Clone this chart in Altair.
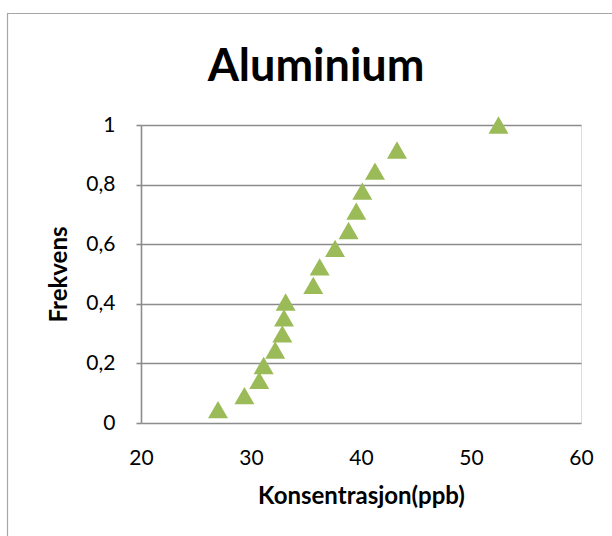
import altair as alt
import pandas as pd

# Aluminium concentration (ppb) against cumulative frequency
konsentrasjon = [27.0, 29.4, 30.75, 31.15, 32.2, 32.85, 33.0, 33.15, 35.66, 36.24,
                 37.64, 38.87, 39.57, 40.12, 41.27, 43.27, 52.5]
frekvens = [0.045, 0.092, 0.143, 0.193, 0.245, 0.299, 0.353, 0.406, 0.462, 0.524,
            0.586, 0.646, 0.711, 0.778, 0.845, 0.916, 1.0]

x_ticks = [20, 30, 40, 50, 60]
y_ticks = [0, 0.2, 0.4, 0.6, 0.8, 1.0]

FONT = "Lato"
GRID = "#8c8c8c"

df = pd.DataFrame({"Konsentrasjon": konsentrasjon, "Frekvens": frekvens})

points = alt.Chart(df).mark_point(
    shape="triangle-up", filled=True, size=400, color="#9BBB59", opacity=1
).encode(
    x=alt.X(
        "Konsentrasjon:Q",
        scale=alt.Scale(domain=[20, 60], nice=False, zero=False),
        axis=alt.Axis(
            title="Konsentrasjon(ppb)",
            values=x_ticks,
            grid=False,
            ticks=False,
            domain=False,
            labelFlush=False,
            labelFont=FONT,
            labelFontSize=21,
            labelColor="#000000",
            labelPadding=24,
            titleFont=FONT,
            titleFontSize=24,
            titleFontWeight="bold",
            titleColor="#000000",
            titleBaseline="alphabetic",
            titleY=80,
        ),
    ),
    y=alt.Y(
        "Frekvens:Q",
        scale=alt.Scale(domain=[0, 1], nice=False),
        axis=alt.Axis(
            title="Frekvens",
            values=y_ticks,
            labelExpr="replace(format(datum.value, '.1~f'), '.', ',')",
            grid=True,
            gridColor=GRID,
            gridWidth=1.6,
            domain=True,
            domainColor=GRID,
            domainWidth=1.6,
            ticks=True,
            tickColor=GRID,
            tickSize=5,
            tickWidth=1.6,
            labelFont=FONT,
            labelFontSize=21,
            labelColor="#000000",
            labelPadding=21,
            titleFont=FONT,
            titleFontSize=24,
            titleFontWeight="bold",
            titleColor="#000000",
            titleBaseline="middle",
            titleX=-82,
            titleY=149,
        ),
    ),
)

# outer chart frame
frame = alt.Chart(pd.DataFrame({"f": [0]})).mark_rect(
    fillOpacity=0, stroke="#a6a6a6", strokeWidth=1.2
).encode(
    x=alt.value(-133.5), x2=alt.value(520),
    y=alt.value(-111.5), y2=alt.value(460),
)

chart = alt.layer(frame, points).properties(
    width=440,
    height=298,
    padding={"left": 141, "top": 125, "right": 31, "bottom": 113},
    autosize=alt.AutoSizeParams(type="none"),
    title=alt.TitleParams(
        text="Aluminium",
        font=FONT,
        fontSize=45,
        fontWeight="bold",
        color="#000000",
        anchor="middle",
        frame="group",
        dx=-45,
        dy=113,
        baseline="alphabetic",
        offset=0,
    ),
).configure_view(stroke=None).configure(background="#ffffff")

chart.save("out.html", embed_options={"renderer": "svg", "actions": False})
